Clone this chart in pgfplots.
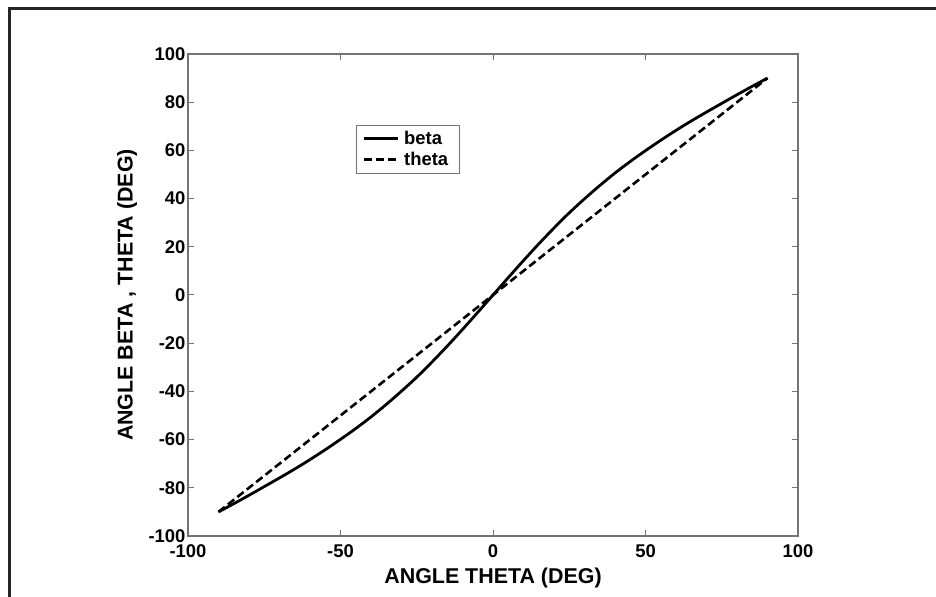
\documentclass[border=0pt]{standalone}
\usepackage{pgfplots}
\pgfplotsset{compat=1.18}
\usepackage{fontspec}
\setmainfont{Liberation Sans}
\begin{document}
\begin{tikzpicture}[x=1bp,y=1bp]
\path[use as bounding box] (0,0) rectangle (936,597);
\draw[line width=3bp,color=black!85] (9,-5) -- (9,588) -- (945,588);
\begin{axis}[
  at={(188bp,61bp)}, anchor=south west,
  scale only axis, width=610bp, height=482bp,
  xmin=-100, xmax=100, ymin=-100, ymax=100,
  xtick={-100,-50,0,50,100}, ytick={-100,-80,...,100},
  tick align=inside, major tick length=6bp,
  axis line style={draw=black!55, line width=1.2bp},
  every tick/.style={draw=black!55, line width=1bp},
  /pgf/number format/assume math mode=true,
  ticklabel style={font=\fontsize{18.5}{21}\selectfont\bfseries},
  xticklabel style={yshift=-5bp},
  yticklabel style={xshift=1bp},
  label style={font=\fontsize{21.5}{24}\selectfont\bfseries},
  xlabel={ANGLE THETA (DEG)},
  ylabel={ANGLE BETA , THETA (DEG)},
  xlabel style={at={(axis description cs:0.5,-0.087)},anchor=center},
  ylabel style={at={(axis description cs:-0.100,0.5)},anchor=center},
  legend style={at={(axis description cs:0.2754,0.8527)},anchor=north west,
    draw=black!55, line width=0.8bp, font=\fontsize{18.5}{20}\selectfont\bfseries,
    inner xsep=6bp, inner ysep=3bp, row sep=0bp,
    nodes={inner xsep=5bp, inner ysep=3bp}},
  legend cell align=left,
  legend image code/.code={\draw[#1, line width=2.8bp] (0bp,0bp) -- (34bp,0bp);},
]
\addplot[black, line width=2.8bp, smooth] coordinates {
(-90,-90) (-85,-86.6) (-80,-83.1) (-75,-79.5) (-70,-75.9) (-65,-72.2) (-60,-68.3)
(-55,-64.2) (-50,-59.9) (-45,-55.4) (-40,-50.6) (-35,-45.4) (-30,-39.9) (-25,-34.1)
(-20,-27.8) (-15,-21.2) (-10,-14.3) (-5,-7.2) (0,0) (5,7.2) (10,14.3) (15,21.2)
(20,27.8) (25,34.1) (30,39.9) (35,45.4) (40,50.6) (45,55.4) (50,59.9) (55,64.2)
(60,68.3) (65,72.2) (70,75.9) (75,79.5) (80,83.1) (85,86.6) (90,90)
};
\addlegendentry{beta}
\addplot[black, line width=2.6bp, dash pattern=on 8bp off 4bp] coordinates {
(-90,-90) (90,90)
};
\addlegendentry{theta}
\end{axis}
\end{tikzpicture}
\end{document}
